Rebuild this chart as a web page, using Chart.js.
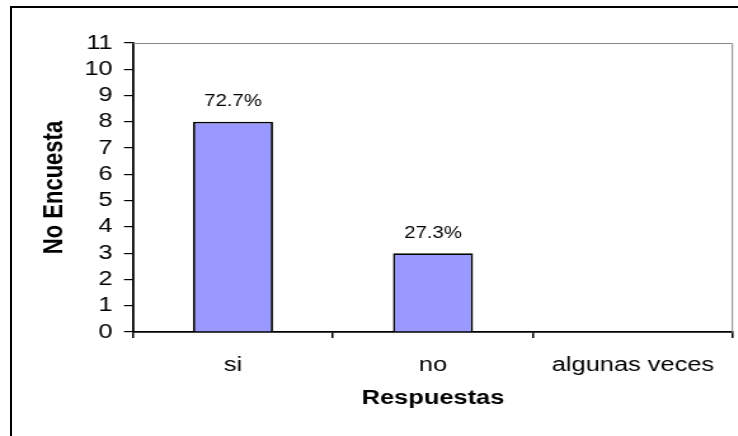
<!DOCTYPE html>
<html>
<head>
<meta charset="utf-8">
<script src="https://cdn.jsdelivr.net/npm/chart.js@4/dist/chart.umd.min.js"></script>
<style>
  html, body { margin: 0; padding: 0; background: #fff; overflow: hidden; }
  #frame { position: absolute; left: 10px; top: 6px; width: 800px; height: 500px;
           border-left: 2px solid #000; border-top: 2px solid #000; }
  #wrap { position: absolute; left: 0; top: 0; transform-origin: 0 0; }
</style>
</head>
<body>
<div id="frame"></div>
<div id="wrap"><canvas id="chart"></canvas></div>
<script>
// --- datos del gráfico ---
const categorias = ['si', 'no', 'algunas veces'];
const encuestas = [8, 3, 0];
const porcentajes = ['72.7%', '27.3%', ''];
const yTicks = [0, 1, 2, 3, 4, 5, 6, 7, 8, 9, 10, 11];

// la imagen original está estirada a lo ancho
const STRETCH = 1.27;
const W = Math.round(738 / STRETCH);
const H = 436;
const sx = v => v / STRETCH;

const canvas = document.getElementById('chart');
canvas.width = W;
canvas.height = H;
canvas.style.width = W + 'px';
canvas.style.height = H + 'px';
document.getElementById('wrap').style.transform = 'scaleX(' + STRETCH + ')';

const FONT = "'Liberation Sans', Arial, sans-serif";

// borde gris arriba y a la derecha del área de trazado
const bordePlot = {
    id: 'bordePlot',
    beforeDatasetsDraw(chart) {
        const { ctx, chartArea: a } = chart;
        ctx.save();
        ctx.strokeStyle = '#888888';
        ctx.lineWidth = 1;
        ctx.beginPath();
        ctx.moveTo(a.left, a.top + 0.5);
        ctx.lineTo(a.right - 0.5, a.top + 0.5);
        ctx.lineTo(a.right - 0.5, a.bottom);
        ctx.stroke();
        ctx.restore();
    }
};

// etiquetas de porcentaje sobre las barras
const etiquetas = {
    id: 'etiquetas',
    afterDatasetsDraw(chart) {
        const { ctx } = chart;
        const meta = chart.getDatasetMeta(0);
        ctx.save();
        ctx.font = '16px ' + FONT;
        ctx.fillStyle = '#000';
        ctx.textAlign = 'center';
        ctx.textBaseline = 'middle';
        meta.data.forEach((bar, i) => {
            if (porcentajes[i]) ctx.fillText(porcentajes[i], bar.x, bar.y - 20);
        });
        ctx.restore();
    }
};

new Chart(canvas, {
    type: 'bar',
    data: {
        labels: categorias,
        datasets: [{
            data: encuestas,
            backgroundColor: '#9999FF',
            borderColor: '#000',
            borderWidth: 1.8,
            borderSkipped: 'bottom',
            categoryPercentage: 1,
            barPercentage: 0.4
        }]
    },
    options: {
        responsive: false,
        animation: false,
        devicePixelRatio: 1,
        layout: { padding: { top: 43, right: W - sx(733), left: 0, bottom: 0 } },
        plugins: { legend: { display: false }, tooltip: { enabled: false } },
        scales: {
            x: {
                afterFit(scale) { scale.height = H - 332; },
                border: { display: true, color: '#000', width: 1.8 },
                grid: { drawOnChartArea: false, drawTicks: true, tickLength: 6, color: '#000', lineWidth: 1.5 },
                ticks: { color: '#000', padding: 15, font: { family: FONT, size: 20 } },
                title: { display: true, text: 'Respuestas', color: '#000',
                         font: { family: FONT, size: 20, weight: 'bold' }, padding: { top: 0, bottom: 26 } }
            },
            y: {
                min: 0, max: 11,
                afterFit(scale) { scale.width = sx(133); },
                afterBuildTicks(scale) { scale.ticks = yTicks.map(v => ({ value: v })); },
                border: { display: true, color: '#000', width: 1.8 },
                grid: { drawOnChartArea: false, drawTicks: true, tickLength: sx(9), color: '#000', lineWidth: 1.2 },
                ticks: { color: '#000', padding: 9, autoSkip: false, stepSize: 1,
                         font: { family: FONT, size: 20 } },
                title: { display: true, text: 'No Encuesta', color: '#000',
                         font: { family: FONT, size: 22, weight: 'bold' }, padding: { top: 30, bottom: 0 } }
            }
        }
    },
    plugins: [bordePlot, etiquetas]
});
</script>
</body>
</html>
